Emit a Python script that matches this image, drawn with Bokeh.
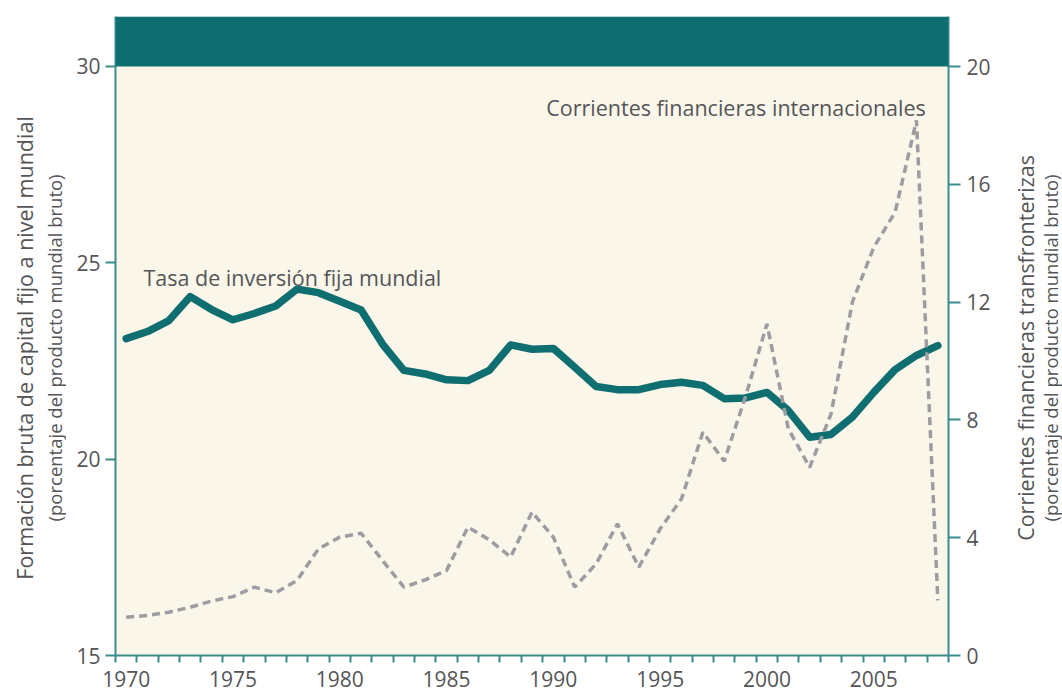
import math
from bokeh.plotting import figure
from bokeh.layouts import row
from bokeh.models import Range1d, LinearAxis, FixedTicker, BoxAnnotation, Label
from bokeh.core.properties import value
from bokeh.embed import file_html
from bokeh.resources import INLINE

years = list(range(1970, 2009))
inversion = [23.07, 23.25, 23.53, 24.14, 23.81, 23.55, 23.71, 23.90, 24.33, 24.24,
             24.02, 23.80, 22.93, 22.26, 22.17, 22.02, 22.00, 22.26, 22.91, 22.80,
             22.82, 22.34, 21.85, 21.77, 21.77, 21.90, 21.96, 21.88, 21.54, 21.56,
             21.70, 21.24, 20.56, 20.63, 21.07, 21.70, 22.28, 22.64, 22.89]
flows = [1.30, 1.36, 1.47, 1.64, 1.85, 2.00, 2.32, 2.13, 2.55, 3.62,
         4.02, 4.15, 3.23, 2.32, 2.57, 2.89, 4.36, 3.93, 3.34, 4.87,
         4.02, 2.32, 3.11, 4.47, 3.00, 4.30, 5.32, 7.58, 6.60, 8.80,
         11.26, 7.70, 6.39, 8.20, 12.00, 13.86, 15.05, 18.17, 1.87]
x_tick_labels = [1970, 1975, 1980, 1985, 1990, 1995, 2000, 2005]
left_ticks = [15, 20, 25, 30]
right_ticks = [0, 4, 8, 12, 16, 20]

left_title = "Formación bruta de capital fijo a nivel mundial"
left_sub = "(porcentaje del producto mundial bruto)"
right_title = "Corrientes financieras transfronterizas"
right_sub = "(porcentaje del producto mundial bruto)"

FONT = "Open Sans"
TEAL = "#0F6E6F"
AXIS = "#3A8B8C"
TXT = "#555558"
H = 696
LW = 66   # left title panel width
RW = 66   # right title panel width

# ---------------- main chart ----------------
p = figure(width=930, height=H,
           x_range=Range1d(1969.5, 2008.5), y_range=Range1d(15, 31.273),
           output_backend="svg", toolbar_location=None,
           min_border_left=49, min_border_right=48, min_border_top=16, min_border_bottom=41)
p.extra_y_ranges = {"flows": Range1d(0, 21.698)}
p.add_layout(LinearAxis(y_range_name="flows", ticker=FixedTicker(ticks=right_ticks)), "right")

p.background_fill_color = "#FAF6EA"
p.border_fill_color = "white"
p.outline_line_color = None
p.xgrid.visible = False
p.ygrid.visible = False

p.xaxis.ticker = FixedTicker(ticks=x_tick_labels,
                             minor_ticks=[1969.5 + i for i in range(40)])
p.yaxis[0].ticker = FixedTicker(ticks=left_ticks)

for ax in p.axis:
    ax.axis_line_color = AXIS
    ax.axis_line_width = 2
    ax.major_tick_line_color = AXIS
    ax.major_tick_line_width = 2
    ax.major_tick_in = 0
    ax.minor_tick_line_color = None
    ax.major_label_text_font = FONT
    ax.major_label_text_font_size = "21px"
    ax.major_label_text_color = TXT

p.xaxis.major_tick_line_color = None
p.xaxis.minor_tick_line_color = AXIS
p.xaxis.minor_tick_line_width = 2
p.xaxis.minor_tick_in = 0
p.xaxis.minor_tick_out = 7
p.xaxis.major_label_standoff = 8
p.yaxis.major_tick_out = 10
p.yaxis[0].major_label_standoff = 5
p.yaxis[1].major_tick_out = 12
p.yaxis[1].major_label_standoff = 6

p.add_layout(BoxAnnotation(bottom=30, fill_color="#0E6D70", fill_alpha=1, line_color=None))

p.line(years, inversion, line_width=7.5, color=TEAL, line_join="round", line_cap="round")
p.line(years, flows, y_range_name="flows", line_width=3.5, color="#9C9CA1", line_dash="8 5")

p.add_layout(Label(x=1970.81, y=24.63, text="Tasa de inversión fija mundial",
                   text_font=FONT, text_font_size="21.5px", text_color=TXT,
                   text_baseline="alphabetic"))
p.add_layout(Label(x=1989.67, y=28.95, text="Corrientes financieras internacionales",
                   text_font=FONT, text_font_size="21.5px", text_color=TXT,
                   text_baseline="alphabetic"))

# ---------------- side title panels (page pixel coordinates) ----------------
def side_panel(x0, w, xs, texts, sizes):
    f = figure(width=w, height=H, x_range=Range1d(x0, x0 + w), y_range=Range1d(0, H),
               output_backend="svg", toolbar_location=None,
               x_axis_type=None, y_axis_type=None, min_border=0)
    f.outline_line_color = None
    f.xgrid.visible = False
    f.ygrid.visible = False
    f.background_fill_color = "white"
    f.border_fill_color = "white"
    for x, t, s in zip(xs, texts, sizes):
        f.text(x=[x], y=[H - 361], text=[t], angle=math.pi / 2,
               text_font=value(FONT), text_font_size=value(s), text_color=TXT,
               text_align="center", text_baseline="middle")
    return f

left_panel = side_panel(0, LW, [24, 53.5], [left_title, left_sub], ["21.5px", "18.5px"])
right_panel = side_panel(LW + 930, RW, [1025, 1050], [right_title, right_sub], ["21.5px", "18.5px"])

layout = row(left_panel, p, right_panel, spacing=0)
open("out.html", "w").write(file_html(layout, INLINE))
